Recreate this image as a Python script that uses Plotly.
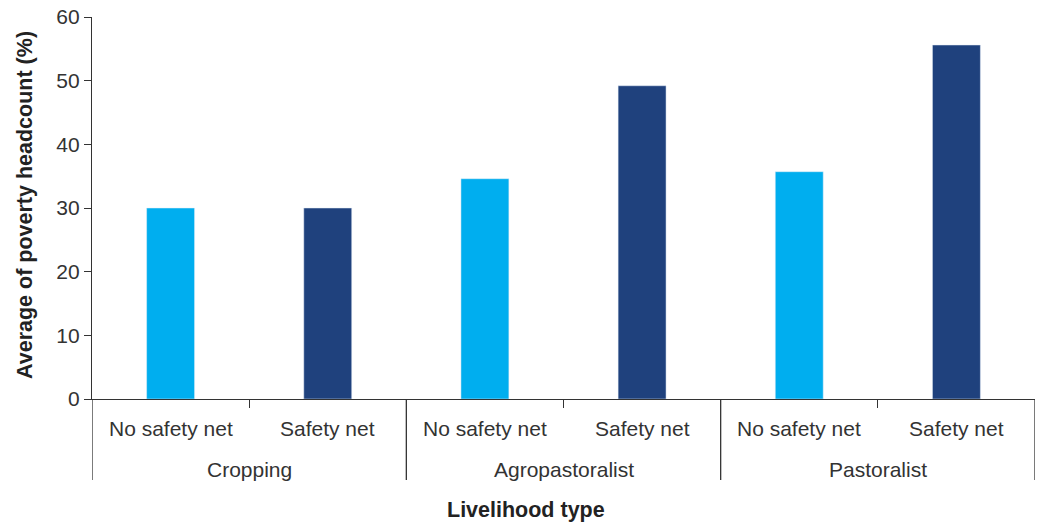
import plotly.graph_objects as go

groups = ["Cropping", "Agropastoralist", "Pastoralist"]
subcats = ["No safety net", "Safety net"]
no_safety = [30.0, 34.6, 35.7]
safety = [30.0, 49.2, 55.6]
y_ticks = [0, 10, 20, 30, 40, 50, 60]

C_LIGHT = "#00AEEF"
C_DARK = "#1F417D"
TXT = "#333333"
FONT = "Liberation Sans, Arial, sans-serif"

pos_no = [2 * i for i in range(len(groups))]
pos_sn = [2 * i + 1 for i in range(len(groups))]

fig = go.Figure()
fig.add_trace(go.Bar(x=pos_no, y=no_safety, marker_color=C_LIGHT, width=0.305, name=subcats[0]))
fig.add_trace(go.Bar(x=pos_sn, y=safety, marker_color=C_DARK, width=0.305, name=subcats[1]))

L, R, T, B = 92, 6, 17, 126
W, H = 1041, 525
ph = H - T - B

def py(pixel_y):
    return (H - B - pixel_y) / ph

annotations = []
for i, g in enumerate(groups):
    for j, s in enumerate(subcats):
        annotations.append(dict(x=2 * i + j, y=py(429), xref="x", yref="paper", text=s,
                                showarrow=False, font=dict(size=21, color=TXT, family=FONT),
                                xanchor="center", yanchor="middle"))
    annotations.append(dict(x=2 * i + 0.5, y=py(470), xref="x", yref="paper", text=g,
                            showarrow=False, font=dict(size=21, color=TXT, family=FONT),
                            xanchor="center", yanchor="middle"))

annotations.append(dict(x=(526 - L) / (W - L - R), y=py(510), xref="paper", yref="paper",
                        text="<b>Livelihood type</b>", showarrow=False,
                        font=dict(size=21.5, color="#222222", family=FONT),
                        xanchor="center", yanchor="middle"))
annotations.append(dict(x=0, xshift=25 - L, y=py(205), xref="paper", yref="paper",
                        text="<b>Average of poverty headcount (%)</b>", showarrow=False,
                        textangle=-90, font=dict(size=21.5, color="#222222", family=FONT),
                        xanchor="center", yanchor="middle"))

shapes = []
for k in range(len(groups) + 1):
    xv = 2 * k - 0.5
    shapes.append(dict(type="line", xref="x", yref="paper", x0=xv, x1=xv, y0=0, y1=py(480),
                       line=dict(color="#333333", width=1.3)))

fig.update_layout(
    width=W, height=H,
    margin=dict(l=L, r=R, t=T, b=B),
    plot_bgcolor="white", paper_bgcolor="white",
    showlegend=False,
    annotations=annotations,
    shapes=shapes,
    font=dict(family=FONT, color=TXT),
)
fig.update_xaxes(range=[-0.5, 5.5], tickvals=[0.5, 2.5, 4.5], ticktext=["", "", ""],
                 ticks="outside", ticklen=8, tickcolor="#333333", tickwidth=1.3,
                 showline=True, linecolor="#333333", linewidth=1.3, showgrid=False,
                 zeroline=False)
fig.update_yaxes(range=[0, 60], tickvals=y_ticks, ticks="outside", ticklen=7,
                 tickcolor="#333333", tickwidth=1.3, showline=True, linecolor="#333333",
                 linewidth=1.3, showgrid=False, zeroline=False,
                 tickfont=dict(size=21, color=TXT, family=FONT))

fig.write_html("out.html")
